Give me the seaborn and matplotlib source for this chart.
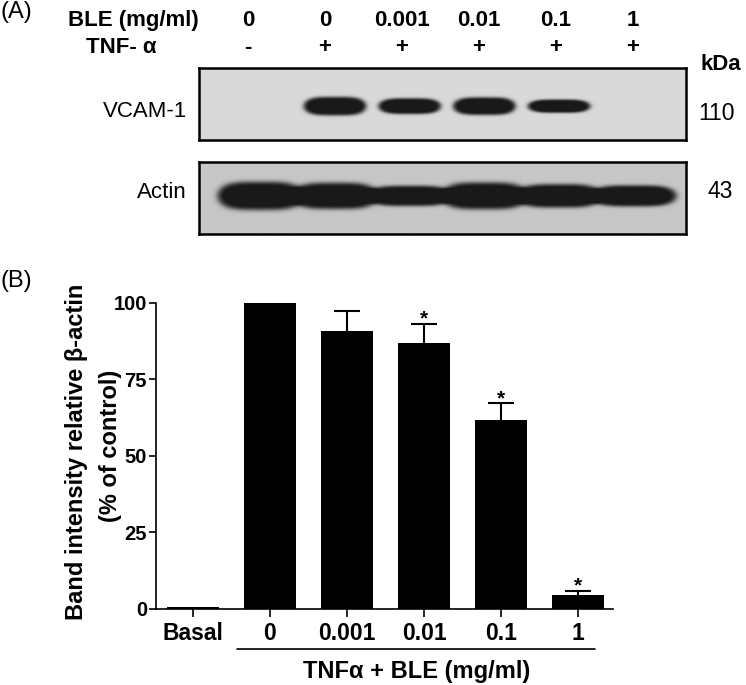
import numpy as np
import pandas as pd
import matplotlib
matplotlib.use("Agg")
import matplotlib.pyplot as plt
import matplotlib.transforms as mtransforms
import seaborn as sns

# (A) western blot - lane labels and relative band signal per lane
lane_ble = ["0", "0", "0.001", "0.01", "0.1", "1"]
lane_tnf = ["-", "+", "+", "+", "+", "+"]
vcam_signal = [0.0, 1.0, 0.85, 0.95, 0.72, 0.0]
actin_signal = [1.0, 0.93, 0.72, 0.95, 0.83, 0.75]

# (B) quantification, % of control
groups = ["Basal", "0", "0.001", "0.01", "0.1", "1"]
band_pct = [0.8, 100.0, 90.8, 86.8, 61.7, 4.6]
band_sem = [0.0, 0.0, 6.4, 6.4, 5.4, 1.4]
signif = ["", "", "", "*", "*", "*"]

W, H = 746, 685


def fx(x):
    return x / W


def fy(y):
    return 1 - y / H


sns.set_style("ticks")
plt.rcParams["font.family"] = ["Liberation Sans", "DejaVu Sans"]
for k in ["text.color", "axes.labelcolor", "xtick.color", "ytick.color", "axes.edgecolor"]:
    plt.rcParams[k] = "black"

fig = plt.figure(figsize=(W / 100, H / 100), dpi=100)

BLOT_XLIM = (-0.816, 5.695)


def draw_blot(ax, signal, yc, half_h, half_w, bg):
    xs = np.linspace(BLOT_XLIM[0], BLOT_XLIM[1], 700)
    ys = np.linspace(0, 1, 140)
    X, Y = np.meshgrid(xs, ys)
    dens = np.zeros_like(X)
    for lane, s in enumerate(signal):
        if s <= 0:
            continue
        r = (np.abs(X - lane) / half_w) ** 4 + (np.abs(Y - yc) / (half_h * s)) ** 2
        dens += 1 / (1 + np.exp((r - 1) * 4.5))
    dens = np.clip(dens * 1.15, 0, 1)
    img = bg - (bg - 0.1) * dens
    ax.imshow(img, extent=(xs[0], xs[-1], 0, 1), origin="lower", aspect="auto",
              cmap="gray", vmin=0, vmax=1, interpolation="bilinear")
    ax.set_xlim(BLOT_XLIM)
    ax.set_ylim(0, 1)
    ax.set_xticks([])
    ax.set_yticks([])
    for sp in ax.spines.values():
        sp.set_visible(True)
        sp.set_linewidth(1.8)
        sp.set_color("black")


ax_v = fig.add_axes([fx(199), fy(140), (686 - 199) / W, 72 / H])
draw_blot(ax_v, vcam_signal, 0.47, 0.125, 0.41, 0.85)
ax_a = fig.add_axes([fx(199), fy(234), (686 - 199) / W, 72 / H])
draw_blot(ax_a, actin_signal, 0.53, 0.19, 0.56, 0.78)

# panel A text
fig.text(fx(0), fy(18), "(A)", fontsize=17, ha="left", va="baseline")
fig.text(fx(133), fy(26), "BLE (mg/ml)", fontsize=16, fontweight="bold", ha="center", va="baseline")
fig.text(fx(121), fy(53), "TNF- α", fontsize=16, fontweight="bold", ha="center", va="baseline")
for i, (b, t) in enumerate(zip(lane_ble, lane_tnf)):
    x = 248 + 77 * i
    fig.text(fx(x), fy(26), b, fontsize=16, fontweight="bold", ha="center", va="baseline")
    fig.text(fx(x), fy(53), t, fontsize=16, fontweight="bold", ha="center", va="baseline")
fig.text(fx(700), fy(70), "kDa", fontsize=16, fontweight="bold", ha="left", va="baseline")
fig.text(fx(187), fy(117), "VCAM-1", fontsize=16, ha="right", va="baseline")
fig.text(fx(187), fy(198), "Actin", fontsize=16, ha="right", va="baseline")
fig.text(fx(716), fy(120), "110", fontsize=16.5, ha="center", va="baseline")
fig.text(fx(720), fy(198), "43", fontsize=16.5, ha="center", va="baseline")

# panel B
fig.text(fx(0), fy(287), "(B)", fontsize=17, ha="left", va="baseline")
ax = fig.add_axes([fx(156), fy(609), (613 - 156) / W, (609 - 302.7) / H])
df = pd.DataFrame({"group": groups, "pct": band_pct})
sns.barplot(data=df, x="group", y="pct", order=groups, color="black", saturation=1,
            width=0.675, errorbar=None, linewidth=0, ax=ax, zorder=2)

# symmetric SEM drawn behind the bars so only the upper half shows
idx = [i for i, s in enumerate(band_sem) if s > 0]
ax.errorbar(idx, [band_pct[i] for i in idx], yerr=[band_sem[i] for i in idx],
            fmt="none", ecolor="black", elinewidth=1.5, capsize=9.4, capthick=1.5,
            clip_on=False, zorder=1)
for i, s in enumerate(signif):
    if s:
        ax.text(i, band_pct[i] + band_sem[i] + 1.6, s, ha="center", va="center",
                fontsize=15, fontweight="bold")

ax.set_xlim(-0.48, 5.455)
ax.set_ylim(0, 100)
ax.set_yticks([0, 25, 50, 75, 100])
sns.despine(ax=ax)
ax.spines["left"].set_linewidth(1.2)
ax.spines["bottom"].set_linewidth(1.2)
ax.spines["bottom"].set_zorder(3)
ax.tick_params(axis="y", length=5, width=1.2, pad=1.5, labelsize=14.5)
ax.tick_params(axis="x", length=6, width=1.2, pad=3, labelsize=16.5)
for lab in ax.get_xticklabels() + ax.get_yticklabels():
    lab.set_fontweight("bold")
ax.set_xlabel("")
ax.set_ylabel("")

# two-line y label, one text per line
fig.text(fx(77), fy(452), "Band intensity relative β-actin", rotation=90,
         ha="center", va="center", fontsize=17, fontweight="bold")
fig.text(fx(111), fy(446), "(% of control)", rotation=90,
         ha="center", va="center", fontsize=17, fontweight="bold")

trans = mtransforms.blended_transform_factory(ax.transData, ax.transAxes)
ax.plot([0.571, 5.22], [-0.1306, -0.1306], color="black", lw=1.2,
        transform=trans, clip_on=False)
ax.text(2.9, -0.225, "TNFα + BLE (mg/ml)", transform=trans, ha="center",
        va="baseline", fontsize=17, fontweight="bold")

fig.savefig("out.png", dpi=100)
